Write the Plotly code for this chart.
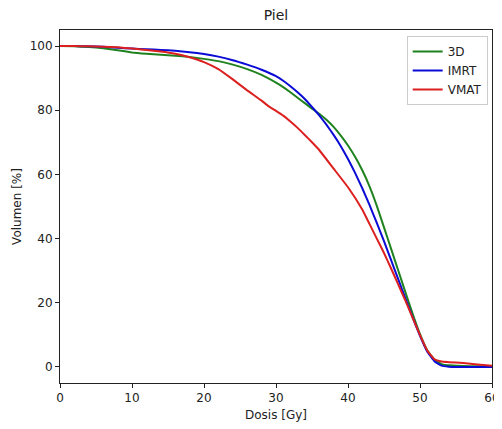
import plotly.graph_objects as go

# Dose axis values (Gy) for each curve
dose_3d = [0, 2, 4, 6, 8, 10, 12, 14, 16, 18, 20, 22, 24, 26, 28, 30, 31, 32, 33, 34, 35, 36, 37, 38, 39, 40, 41, 42, 43, 44, 45, 46, 47, 48, 49, 50, 51, 52, 53, 54, 56, 58, 60]
vol_3d = [100, 99.9, 99.7, 99.3, 98.7, 98.0, 97.6, 97.3, 97.0, 96.6, 96.0, 95.3, 94.2, 92.8, 91.0, 88.6, 87.2, 85.6, 83.9, 82.2, 80.5, 78.9, 77.0, 74.8, 72.1, 69.0, 65.4, 61.2, 56.2, 50.2, 43.5, 36.7, 29.9, 23.1, 16.4, 10.2, 5.2, 2.3, 0.9, 0.5, 0.3, 0.2, 0.1]

dose_imrt = [0, 2, 4, 6, 8, 10, 12, 14, 16, 18, 20, 22, 24, 26, 28, 30, 31, 32, 33, 34, 35, 36, 37, 38, 39, 40, 41, 42, 43, 44, 45, 46, 47, 48, 49, 50, 51, 52, 53, 54, 55, 60]
vol_imrt = [100, 100, 99.9, 99.8, 99.5, 99.2, 99.0, 98.8, 98.5, 98.1, 97.5, 96.7, 95.6, 94.2, 92.6, 90.6, 89.2, 87.5, 85.6, 83.5, 81.0, 78.4, 75.5, 72.3, 68.8, 64.8, 60.4, 55.6, 50.4, 44.9, 39.2, 33.2, 27.2, 21.2, 15.3, 9.7, 4.8, 1.8, 0.4, 0.1, 0.0, 0.0]

dose_vmat = [0, 2, 4, 6, 8, 10, 12, 14, 16, 18, 20, 22, 24, 26, 27, 28, 29, 30, 31, 32, 33, 34, 35, 36, 38, 40, 42, 43, 44, 45, 46, 47, 48, 49, 50, 51, 52, 53, 54, 56, 58, 60]
vol_vmat = [100, 100, 99.9, 99.8, 99.6, 99.2, 98.8, 98.3, 97.6, 96.5, 95.0, 92.8, 89.6, 86.2, 84.6, 83.0, 81.2, 79.8, 78.3, 76.5, 74.5, 72.3, 70.0, 67.6, 61.8, 56.0, 49.0, 44.5, 40.0, 35.5, 30.6, 25.6, 20.5, 15.2, 9.9, 5.1, 2.4, 1.7, 1.5, 1.2, 0.8, 0.4]

series_names = ["3D", "IMRT", "VMAT"]
series_colors = ["#1f821f", "#0b0bd6", "#dc2020"]

x_ticks = [0, 10, 20, 30, 40, 50, 60]
y_ticks = [0, 20, 40, 60, 80, 100]

fig = go.Figure()
for name, xs, ys, col in zip(series_names, [dose_3d, dose_imrt, dose_vmat],
                             [vol_3d, vol_imrt, vol_vmat], series_colors):
    fig.add_trace(go.Scatter(x=xs, y=ys, mode="lines", name=name,
                             line=dict(color=col, width=2, shape="spline", smoothing=0.3)))

font_family = "DejaVu Sans"
axis_common = dict(showgrid=False, zeroline=False, showline=True, linecolor="#222",
                   linewidth=1, mirror=True, ticks="outside", ticklen=4, tickcolor="#222",
                   automargin=False,
                   tickfont=dict(family=font_family, size=12, color="#222"))

fig.update_layout(
    width=502, height=429,
    margin=dict(l=52, r=18, t=22, b=54, autoexpand=False),
    paper_bgcolor="white", plot_bgcolor="white",
    title=dict(text="Piel", x=0.5, xref="paper", y=0.984, yref="container",
               xanchor="center", yanchor="middle", automargin=False,
               font=dict(family=font_family, size=14, color="#222")),
    xaxis=dict(range=[0, 60], tickvals=x_ticks,
               title=dict(text="Dosis [Gy]", font=dict(family=font_family, size=12, color="#222"), standoff=6),
               **axis_common),
    yaxis=dict(range=[-5, 105], tickvals=y_ticks,
               title=dict(text="Volumen [%]", font=dict(family=font_family, size=12, color="#222"), standoff=5),
               **axis_common),
    legend=dict(x=0.99, y=0.983, xanchor="right", yanchor="top",
                bgcolor="rgba(255,255,255,0.85)", bordercolor="#ccc", borderwidth=1,
                font=dict(family=font_family, size=12, color="#222"), tracegroupgap=0,
                itemwidth=30),
    showlegend=True,
)

fig.write_html("out.html")
